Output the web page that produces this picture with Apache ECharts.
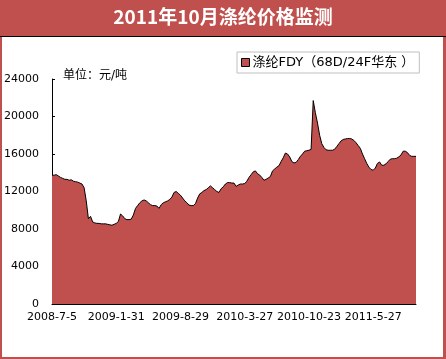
<!DOCTYPE html>
<html>
<head>
<meta charset="utf-8">
<script src="https://cdn.jsdelivr.net/npm/echarts@6/dist/echarts.min.js"></script>
<style>html,body{margin:0;padding:0;background:#fff;}#c{width:446px;height:359px;}</style>
</head>
<body>
<div id="c"></div>
<script>
const titleText = '2011年10月涤纶价格监测';
const seriesName = '涤纶FDY（68D/24F华东 ）';
const unitText = '单位：元/吨';
const tickLabels = ['2008-7-5', '2009-1-31', '2009-8-29', '2010-3-27', '2010-10-23', '2011-5-27'];
const yTicks = [0, 4000, 8000, 12000, 16000, 20000, 24000];
// weekly prices (yuan/ton)
const prices = [
13740,13740,13800,13650,13500,13400,13300,13300,13200,13250,
13100,13050,13000,12900,12800,12400,11000,9100,9350,8750,
8650,8600,8600,8550,8550,8550,8500,8450,8400,8500,
8600,8800,9600,9400,9100,9000,9000,9050,9500,10200,
10500,10800,11000,11100,11000,10800,10600,10500,10500,10450,
10200,10600,10800,10900,11000,11150,11400,11900,12000,11800,
11600,11300,11000,10800,10550,10500,10500,10700,11300,11750,
11900,12100,12200,12400,12600,12400,12200,12000,11900,12300,
12500,12800,12950,12950,12900,12900,12550,12700,12800,12800,
12850,13100,13500,13800,14100,14200,13900,13750,13500,13200,
13300,13450,13600,14200,14400,14600,14750,15200,15600,16100,
16000,15700,15200,15050,15100,15400,15750,16000,16300,16350,
16400,16500,21700,20400,19300,18000,17100,16700,16450,16400,
16400,16400,16500,16800,17100,17400,17550,17600,17650,17660,
17600,17450,17200,16900,16600,16000,15500,15000,14600,14350,
14270,14500,15000,15150,14800,14800,14950,15200,15450,15500,
15500,15550,15700,15900,16300,16300,16150,15850,15750,15750,
15750
];

// weekly date categories; labelled ticks every 30 weeks
const DAY = 86400000;
const categories = prices.map(function (v, i) {
  if (i % 30 === 0 && tickLabels[i / 30]) return tickLabels[i / 30];
  const base = i < 150 ? Date.UTC(2008, 6, 5) + 7 * i * DAY : Date.UTC(2011, 4, 27) + 7 * (i - 150) * DAY;
  const d = new Date(base);
  return d.getUTCFullYear() + '-' + (d.getUTCMonth() + 1) + '-' + d.getUTCDate();
});

const RED = '#C0504D';
const FONT = "'DejaVu Sans', 'Noto Sans CJK SC', sans-serif";
const chart = echarts.init(document.getElementById('c'), null, {renderer: 'canvas'});
chart.setOption({
  backgroundColor: RED,
  animation: false,
  textStyle: {fontFamily: FONT},
  graphic: [
    {type: 'rect', shape: {x: 2, y: 36, width: 441, height: 321}, style: {fill: '#fff'}, z: -10},
    {type: 'line', shape: {x1: 0, y1: 36.5, x2: 446, y2: 36.5}, style: {stroke: '#000', lineWidth: 1}, z: -9},
    {type: 'text', left: 'center', top: 7, style: {text: titleText, fill: '#fff', font: "bold 19px 'Noto Sans CJK SC', sans-serif"}},
    {type: 'text', left: 63, top: 70, style: {text: unitText, fill: '#000', font: "12px 'DejaVu Sans', 'Noto Sans CJK SC', sans-serif"}}
  ],
  legend: {
    left: 237, top: 52,
    data: [seriesName],
    icon: 'rect', itemWidth: 8, itemHeight: 8, itemGap: 4,
    borderColor: '#c0c0c0', borderWidth: 1, backgroundColor: '#fff',
    padding: [4, 5, 4, 4],
    itemStyle: {borderColor: '#000', borderWidth: 1},
    textStyle: {fontSize: 13, color: '#000', fontFamily: FONT, padding: [0, 0, 0, -2]}
  },
  grid: {left: 52, top: 79, width: 364, height: 225, containLabel: false},
  xAxis: {
    type: 'category', data: categories, boundaryGap: false,
    axisLine: {lineStyle: {color: '#000', width: 1}},
    axisTick: {inside: true, length: 4, interval: 29, lineStyle: {color: '#000'}},
    axisLabel: {interval: 29, color: '#000', fontSize: 11, margin: 8, fontFamily: FONT},
    splitLine: {show: false}
  },
  yAxis: {
    type: 'value', min: yTicks[0], max: yTicks[yTicks.length - 1], interval: yTicks[1] - yTicks[0],
    axisLine: {show: true, lineStyle: {color: '#000', width: 1}},
    axisTick: {show: true, inside: true, length: 3, lineStyle: {color: '#000'}},
    axisLabel: {color: '#000', fontSize: 11, margin: 13, fontFamily: FONT, formatter: function (v) { return String(v); }},
    splitLine: {show: false}
  },
  series: [{
    name: seriesName, type: 'line', data: prices,
    symbol: 'none', color: RED,
    lineStyle: {color: '#000', width: 1},
    itemStyle: {color: RED},
    areaStyle: {color: RED, opacity: 1}
  }]
});
</script>
</body>
</html>
